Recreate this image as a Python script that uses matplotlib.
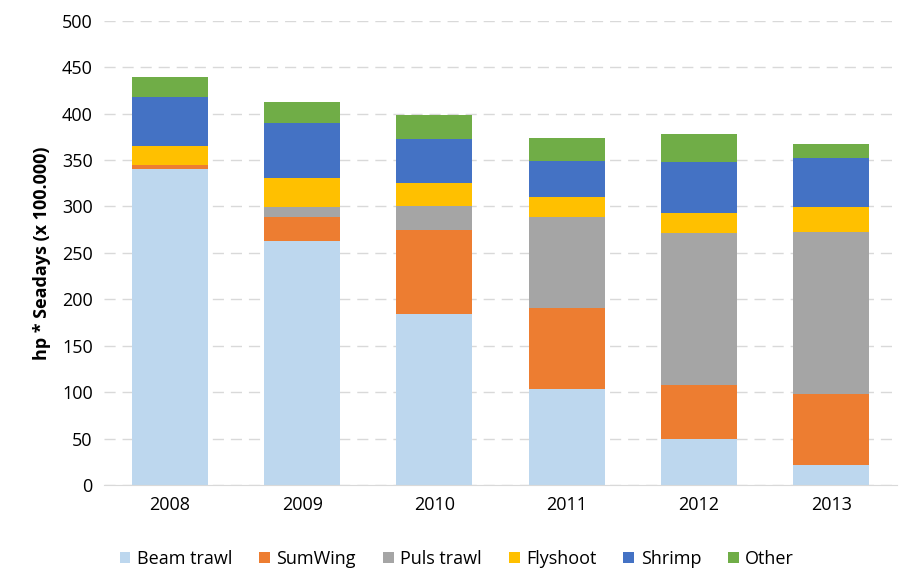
import matplotlib.pyplot as plt
import numpy as np

plt.rcParams['font.family'] = ['Open Sans', 'DejaVu Sans']

years = ['2008', '2009', '2010', '2011', '2012', '2013']
beam_trawl = [340, 263, 184, 103, 50, 22]
sumwing = [5, 26, 91, 88, 58, 76]
puls_trawl = [0, 10, 25, 98, 163, 174]
flyshoot = [20, 32, 25, 21, 22, 27]
shrimp = [53, 59, 48, 39, 55, 53]
other = [22, 23, 26, 25, 30, 15]

series = [('Beam trawl', beam_trawl, '#bdd7ee'),
          ('SumWing', sumwing, '#ed7d31'),
          ('Puls trawl', puls_trawl, '#a5a5a5'),
          ('Flyshoot', flyshoot, '#ffc000'),
          ('Shrimp', shrimp, '#4472c4'),
          ('Other', other, '#70ad47')]

fig = plt.figure(figsize=(9.11, 5.78), dpi=100)
ax = fig.add_axes([0.114, 0.161, 0.871, 0.803])

x = np.arange(len(years))
bottom = np.zeros(len(years))
for name, vals, color in series:
    ax.bar(x, vals, width=0.575, bottom=bottom, color=color, label=name, zorder=2)
    bottom += np.array(vals)

ax.set_ylim(0, 500)
ax.set_xlim(-0.5, len(years) - 0.5)
ax.set_yticks(range(0, 501, 50))
ax.set_xticks(x)
ax.set_xticklabels(years)
ax.tick_params(axis='both', length=0, labelsize=13, colors='#000000', pad=8)
ax.yaxis.grid(True, color='#d9d9d9', linestyle=(0, (8, 5)), linewidth=1, zorder=0)
for s in ['top', 'right', 'left']:
    ax.spines[s].set_visible(False)
ax.spines['bottom'].set_color('#d9d9d9')
ax.set_ylabel('hp * Seadays (x 100.000)', fontsize=13, fontweight='bold', labelpad=8)

ax.legend(loc='upper center', bbox_to_anchor=(0.445, -0.105), ncol=6, frameon=False,
          fontsize=13, handlelength=0.6, handleheight=0.6, handletextpad=0.35, columnspacing=1.5)

fig.savefig('out.png', dpi=100)
